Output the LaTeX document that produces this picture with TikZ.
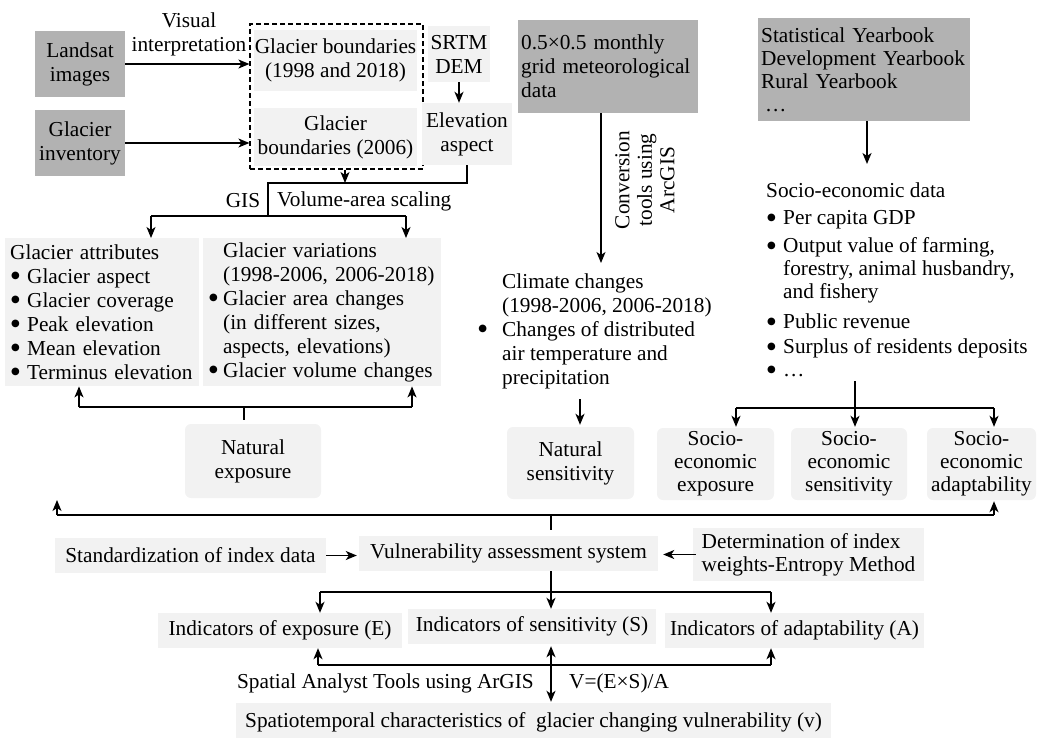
\documentclass[tikz,border=0pt]{standalone}
\usepackage{fontspec}
\setmainfont{Liberation Serif}
\newfontfamily\symfont{DejaVu Sans}
\usetikzlibrary{arrows.meta,calc}
\definecolor{dkgray}{RGB}{178,178,178}
\definecolor{ltgray}{RGB}{242,242,242}
\newcommand{\bigbul}{\raisebox{4.5pt}{\symfont\fontsize{10}{10}\selectfont ●}}
\newcommand{\bul}[1]{\makebox[#1][l]{\hspace{1pt}\bigbul}}
\begin{document}
\begin{tikzpicture}[x=1pt,y=-1pt,
  every node/.style={font=\fontsize{21.3}{24}\selectfont, inner sep=0pt},
  dk/.style={fill=dkgray, align=center},
  lt/.style={fill=ltgray, align=center},
  rlt/.style={fill=ltgray, align=center, rounded corners=6pt},
  ln/.style={line width=1.5pt},
  arr/.style={line width=1.5pt, -{Stealth[length=11pt,width=9pt,inset=3pt]}},
  darr/.style={line width=1.5pt, {Stealth[length=11pt,width=9pt,inset=3pt]}-{Stealth[length=11pt,width=9pt,inset=3pt]}},
  plain/.style={align=center},
  f23/.style={font=\fontsize{21.3}{23}\selectfont},
]
\useasboundingbox (0,0) rectangle (1038,737);

% ---------- top left ----------
\node[dk, minimum width=90pt, minimum height=66pt] (landsat) at (80,64) {Landsat\\images};
\node[dk, minimum width=90pt, minimum height=66pt] (inv) at (80,143) {Glacier\\inventory};
\node[draw, dashed, dash pattern=on 5pt off 3pt, line width=1.2pt, minimum width=173pt, minimum height=145pt] (dash) at (336.5,96.5) {};
\node[lt, minimum width=163pt, minimum height=61pt] (gb1) at (335.5,60.5) {Glacier boundaries\\(1998 and 2018)};
\node[lt, minimum width=163pt, minimum height=58pt] (gb2) at (335.5,137) {Glacier\\boundaries (2006)};
\node[lt, minimum width=62pt, minimum height=56pt] (srtm) at (459,54) {SRTM\\DEM};
\node[lt, minimum width=90pt, minimum height=62pt] (elev) at (467,134) {Elevation\\aspect};
\node[plain] (visual) at (189,34) {Visual\\interpretation};

\draw[arr] (landsat.east) -- (landsat.east -| dash.west);
\draw[arr] (inv.east) -- (inv.east -| dash.west);
\draw[arr] (srtm.south) -- (srtm.south |- elev.north);

\coordinate (dsx) at (345,183);
\coordinate (j1) at (268,183);
\coordinate (j2) at (268,216);
\coordinate (a1) at (151,216);
\coordinate (a2) at (406,216);
\draw[arr] (dash.south -| dsx) -- (dsx);
\draw[ln] (elev.south) |- (j1) -- (j2);
\draw[ln] (a1) -- (a2);

\node (gis) at (243,201) {GIS};
\node[anchor=west] (vas) at (277,201) {Volume-area scaling};

\node[lt, anchor=north west, text width=184pt, inner xsep=5pt, minimum height=148pt, align=left] (attr) at (5,238)
 {Glacier attributes\\\bul{17pt}Glacier aspect\\\bul{17pt}Glacier coverage\\\bul{17pt}Peak elevation\\\bul{17pt}Mean elevation\\\bul{17pt}Terminus elevation};
\node[lt, anchor=north west, text width=228pt, inner xsep=5pt, minimum height=148pt, align=left] (var) at (203,238)
 {\hspace*{15pt}Glacier variations\\\hspace*{15pt}(1998-2006, 2006-2018)\\\bul{15pt}Glacier area changes\\\hspace*{15pt}(in different sizes,\\\hspace*{15pt}aspects, elevations)\\\bul{15pt}Glacier volume changes};

\draw[arr] (a1) -- (a1 |- attr.north);
\draw[arr] (a2) -- (a2 |- var.north);

\node[rlt, minimum width=136pt, minimum height=74pt] (natexp) at (253,461) {Natural\\exposure};
\coordinate (b1) at (79,407);
\coordinate (b2) at (412,407);
\coordinate (b3) at (244,407);
\draw[ln] (b1) -- (b2);
\draw[arr] (b1) -- (b1 |- attr.south);
\draw[arr] (b2) -- (b2 |- var.south);
\draw[ln, shorten <=4pt] (natexp.north -| b3) -- (b3);

% ---------- climate ----------
\node[dk, anchor=north west, minimum width=180pt, minimum height=93pt, text width=174pt, inner xsep=3pt, align=left] (meteo) at (518,20)
 {0.5×0.5 monthly\\grid meteorological\\data};
\coordinate (cv) at (601,263);
\draw[arr] (meteo.south -| cv) -- (cv);
\node[rotate=90, align=center, font=\fontsize{21.3}{22.5}\selectfont] (conv) at (645,180) {Conversion\\tools using\\ArcGIS};
\node[anchor=west, align=left] (clim) at (502,331)
 {Climate changes\\(1998-2006, 2006-2018)\\\llap{\bigbul\hspace{15pt}}Changes of distributed\\air temperature and\\precipitation};
\node[rlt, minimum width=127pt, minimum height=72pt] (natsens) at (570.5,463) {Natural\\sensitivity};
\coordinate (ns1) at (580,399);
\draw[arr, shorten >=2pt] (ns1) -- (ns1 |- natsens.north);

% ---------- socio-economic ----------
\node[dk, f23, anchor=north west, minimum width=212pt, minimum height=103pt, text width=206pt, inner xsep=3pt, align=left] (stat) at (758,18)
 {Statistical Yearbook\\Development Yearbook\\Rural Yearbook\\\hspace*{4pt}…};
\coordinate (sd1) at (867,164);
\draw[arr] (stat.south -| sd1) -- (sd1);
\node[f23, anchor=north west, align=left] (sdata) at (766,183)
 {Socio-economic data\\[4pt]\bul{17pt}Per capita GDP\\[5pt]\bul{17pt}Output value of farming,\\\hspace*{17pt}forestry, animal husbandry,\\\hspace*{17pt}and fishery\\[7pt]\bul{17pt}Public revenue\\[2pt]\bul{17pt}Surplus of residents deposits\\\bul{17pt}…};

\node[rlt, f23, minimum width=117pt, minimum height=72pt] (socexp) at (715.5,464) {Socio-\\economic\\exposure};
\node[rlt, f23, minimum width=116pt, minimum height=72pt] (socsen) at (849,464) {Socio-\\economic\\sensitivity};
\node[rlt, f23, minimum width=109pt, minimum height=72pt] (socada) at (981.5,464) {Socio-\\economic\\adaptability};

\coordinate (sv) at (855,381);
\coordinate (sh1) at (736,408);
\coordinate (sh2) at (994,408);
\draw[ln] (sh1) -- (sh2);
\draw[arr, shorten >=1pt] (sv) -- (sv |- socsen.north);
\draw[arr, shorten >=1pt] (sh1) -- (sh1 |- socexp.north);
\draw[arr, shorten >=1pt] (sh2) -- (sh2 |- socada.north);

% ---------- bottom ----------
\node[lt, minimum width=271pt, minimum height=35pt] (std) at (190.5,555.5) {Standardization of index data};
\node[lt, minimum width=299pt, minimum height=35pt] (vuln) at (508.5,553.5) {Vulnerability assessment system};
\node[lt, f23, minimum width=231pt, minimum height=53pt, align=left] (det) at (808.5,554.5) {Determination of index\\weights-Entropy Method};

\coordinate (L1) at (57,515);
\coordinate (L1t) at (57,500);
\coordinate (L2) at (994,515);
\coordinate (L0) at (551,515);
\draw[ln] (L1) -- (L2);
\draw[arr] (L1) -- (L1t);
\draw[arr, shorten >=1pt] (L2) -- (L2 |- socada.south);
\draw[ln, shorten <=6pt] (vuln.north -| L0) -- (L0);

\draw[arr, shorten >=2pt] (std.east) -- (std.east -| vuln.west);
\draw[arr, shorten <=-3pt, shorten >=5pt] (det.west) -- (det.west -| vuln.east);

\node[lt, minimum width=244pt, minimum height=35pt] (eind) at (280,630.5) {Indicators of exposure (E)};
\node[lt, minimum width=248pt, minimum height=35pt] (sind) at (532,626.5) {Indicators of sensitivity (S)};
\node[lt, minimum width=259pt, minimum height=35pt] (aind) at (794.5,630.5) {Indicators of adaptability (A)};

\coordinate (v0) at (551,592);
\coordinate (h1) at (320,592);
\coordinate (h2) at (771,592);
\draw[arr] (vuln.south -| v0) -- (v0 |- sind.north);
\draw[ln] (h1) -- (h2);
\draw[arr] (h1) -- (h1 |- eind.north);
\draw[arr] (h2) -- (h2 |- aind.north);

\node[lt, minimum width=595pt, minimum height=38pt] (spt) at (533.5,722) {Spatiotemporal characteristics of \ glacier changing vulnerability (v)};
\node[anchor=east] (sat) at (534,683) {Spatial Analyst Tools using ArGIS};
\node[anchor=west] (vf) at (569,683) {V=(E×S)/A};

\coordinate (g1) at (318,665);
\coordinate (g2) at (771,665);
\draw[ln] (g1) -- (g2);
\draw[arr] (g1) -- (g1 |- eind.south);
\draw[arr] (g2) -- (g2 |- aind.south);
\draw[darr, shorten <=2pt, shorten >=1pt] (sind.south -| v0) -- (spt.north -| v0);
\end{tikzpicture}
\end{document}
